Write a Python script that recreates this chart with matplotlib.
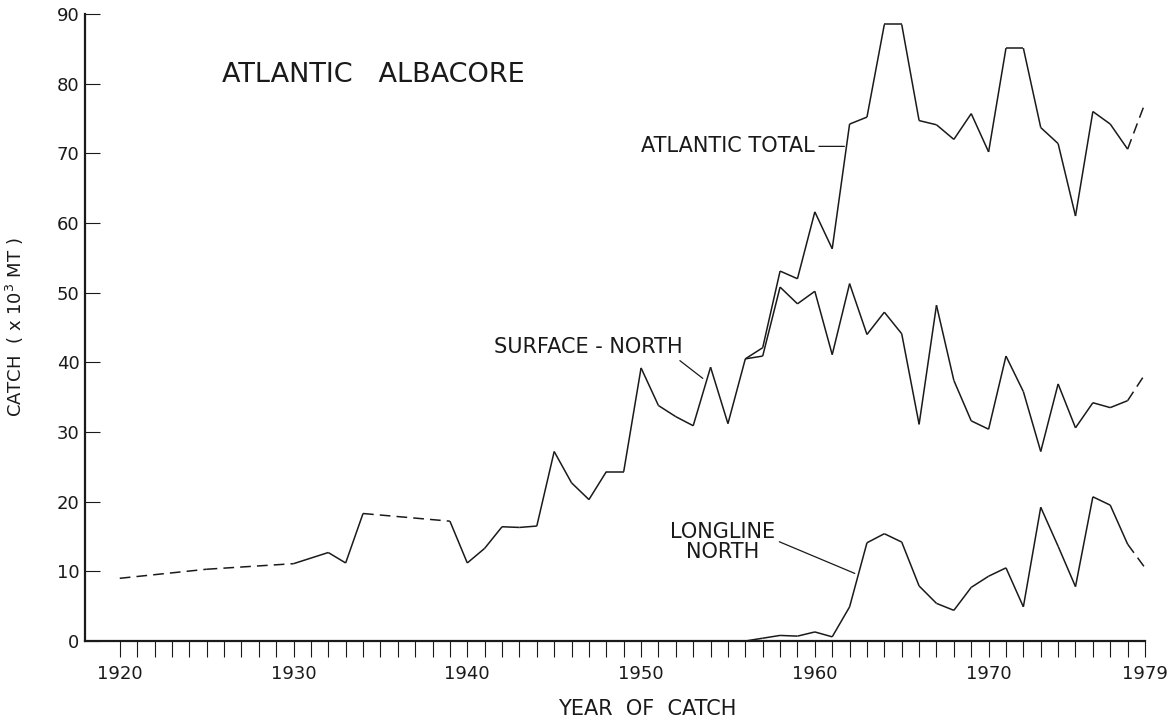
import numpy as np
import matplotlib
matplotlib.use('Agg')
import matplotlib.pyplot as plt

# values in thousand metric tons
surface_years = [1920, 1925, 1930, 1932, 1933, 1934, 1939, 1940, 1941, 1942, 1943, 1944,
                 1945, 1946, 1947, 1948, 1949, 1950, 1951, 1952, 1953, 1954, 1955, 1956,
                 1957, 1958, 1959, 1960, 1961, 1962, 1963, 1964, 1965, 1966, 1967, 1968,
                 1969, 1970, 1971, 1972, 1973, 1974, 1975, 1976, 1977, 1978, 1979]
surface_catch = [9.0, 10.3, 11.1, 12.7, 11.2, 18.3, 17.2, 11.2, 13.3, 16.4, 16.3, 16.5,
                 27.2, 22.7, 20.3, 24.3, 24.3, 39.2, 33.8, 32.2, 30.9, 39.3, 31.2, 40.5,
                 40.9, 50.8, 48.4, 50.2, 41.1, 51.3, 44.0, 47.2, 44.1, 31.1, 48.2, 37.4,
                 31.6, 30.4, 40.9, 35.8, 27.2, 36.9, 30.6, 34.2, 33.5, 34.5, 38.3]
surface_dashed = [(1920, 1930), (1934, 1939), (1978, 1979)]

total_years = list(range(1956, 1980))
total_catch = [40.5, 42.1, 53.1, 52.0, 61.6, 56.3, 74.2, 75.2, 88.5, 88.5, 74.7, 74.1,
               72.0, 75.7, 70.2, 85.1, 85.1, 73.7, 71.4, 61.0, 76.0, 74.2, 70.6, 77.2]
total_dashed = [(1978, 1979)]

longline_years = list(range(1955, 1980))
longline_catch = [0.0, 0.0, 0.4, 0.8, 0.7, 1.3, 0.6, 4.9, 14.1, 15.4, 14.2, 7.9, 5.4,
                  4.4, 7.7, 9.3, 10.5, 4.9, 19.2, 13.6, 7.8, 20.7, 19.5, 13.9, 10.5]
longline_dashed = [(1978, 1979)]

year_labels = [1920, 1930, 1940, 1950, 1960, 1970, 1979]

ink = '#1a1a1a'
plt.rcParams['font.family'] = ['DejaVu Sans']


def draw_series(ax, years, values, dashed):
    # one segment per year step, dashed where the figure shows estimates
    for i in range(len(years) - 1):
        a, b = years[i], years[i + 1]
        is_dash = any(s <= a and b <= e for s, e in dashed)
        ls = (0, (7, 4)) if is_dash else '-'
        ax.plot([a, b], [values[i], values[i + 1]], color=ink, lw=1.1,
                linestyle=ls, solid_joinstyle='miter', solid_capstyle='butt')


fig = plt.figure(figsize=(11.76, 7.23), dpi=100)
ax = fig.add_axes([85 / 1176, 1 - 641 / 723, 1060 / 1176, 627 / 723])

draw_series(ax, surface_years, surface_catch, surface_dashed)
draw_series(ax, total_years, total_catch, total_dashed)
draw_series(ax, longline_years, longline_catch, longline_dashed)

ax.set_xlim(1918, 1979)
ax.set_ylim(0, 90)
for s in ['top', 'right']:
    ax.spines[s].set_visible(False)
for s in ['left', 'bottom']:
    ax.spines[s].set_linewidth(1.6)
    ax.spines[s].set_color(ink)

ax.set_xticks(range(1920, 1980))
ax.set_xticklabels([str(y) if y in year_labels else '' for y in range(1920, 1980)])
ax.set_yticks(range(0, 91, 10))
ax.tick_params(axis='x', direction='out', length=11.5, width=0.8, pad=6,
               labelsize=13, colors=ink)
ax.tick_params(axis='y', direction='in', length=11, width=0.8, pad=4,
               labelsize=13, colors=ink)

ax.set_xlabel('YEAR  OF  CATCH', fontsize=15, color=ink)
ax.xaxis.set_label_coords(0.53, -0.092)
ax.set_ylabel('CATCH  ( x 10$^3$ MT )', fontsize=13, color=ink)
ax.yaxis.set_label_coords(-0.056, 0.5)

ax.text(1925.9, 81.3, 'ATLANTIC   ALBACORE', fontsize=19.5, color=ink,
        ha='left', va='center')

arrow = dict(arrowstyle='-', color=ink, lw=0.9, shrinkA=1, shrinkB=0)
ax.annotate('ATLANTIC TOTAL', xy=(1961.7, 71.0), xytext=(1960.0, 71.0),
            fontsize=15, color=ink, ha='right', va='center', arrowprops=arrow)
ax.annotate('SURFACE - NORTH', xy=(1953.55, 37.7), xytext=(1952.4, 42.2),
            fontsize=15, color=ink, ha='right', va='center',
            arrowprops=dict(arrow, relpos=(0.96, 0.0)))
ax.annotate('LONGLINE\nNORTH', xy=(1962.3, 9.7), xytext=(1954.7, 14.2),
            fontsize=15, color=ink, ha='center', va='center', multialignment='center',
            linespacing=1.0, arrowprops=dict(arrow, relpos=(1.0, 0.55)))

fig.savefig('out.png', dpi=100, facecolor='white')
